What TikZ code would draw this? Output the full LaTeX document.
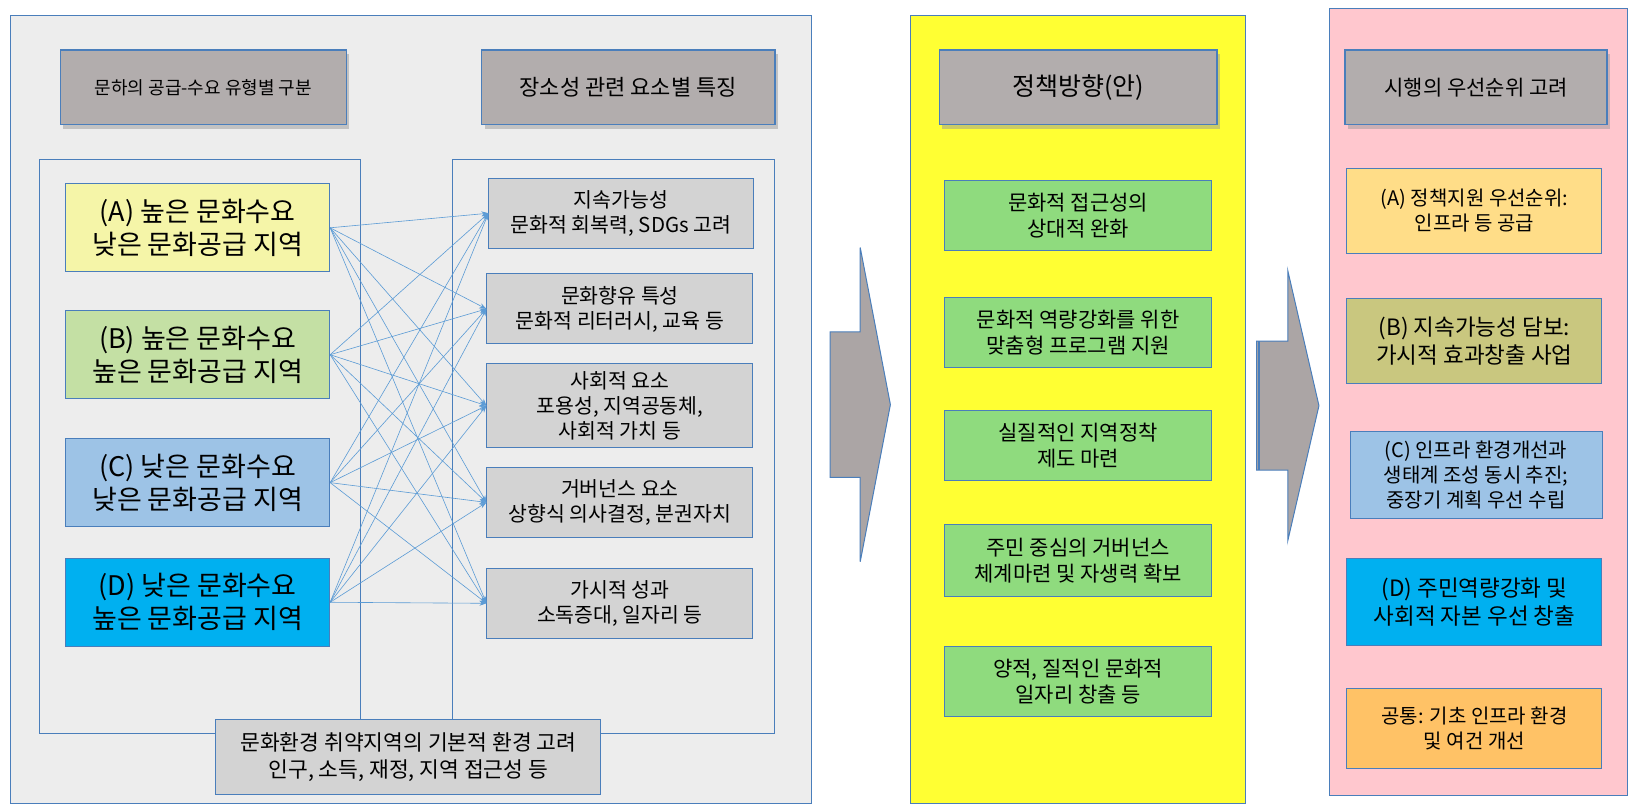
\documentclass[tikz,border=0pt]{standalone}
\usepackage{fontspec}
\setmainfont{Noto Sans CJK KR}
\usetikzlibrary{shadows,arrows.meta}
\definecolor{lineblue}{HTML}{4A7EBB}
\definecolor{linkblue}{HTML}{5B9BD5}
\definecolor{panelgray}{HTML}{EDEDED}
\definecolor{headgray}{HTML}{B2ADAD}
\definecolor{boxgray}{HTML}{D3D3D3}
\definecolor{typeA}{HTML}{F5F5A8}
\definecolor{typeB}{HTML}{C4E0A4}
\definecolor{typeC}{HTML}{9DC3E6}
\definecolor{typeD}{HTML}{00B0F0}
\definecolor{polgreen}{HTML}{8FDB7E}
\definecolor{polyellow}{HTML}{FFFF33}
\definecolor{prpink}{HTML}{FFC7CE}
\definecolor{prA}{HTML}{FFDD88}
\definecolor{prB}{HTML}{C9C77F}
\definecolor{prE}{HTML}{FFC266}
\definecolor{arrowgray}{HTML}{ABA5A5}
\tikzset{
  panel/.style={draw=lineblue, line width=1pt},
  head/.style={draw=lineblue, line width=1.2pt, fill=headgray, drop shadow={shadow xshift=3pt, shadow yshift=-4pt, fill=black!40}},
  item/.style={draw=lineblue, line width=1pt, align=center, inner sep=0pt},
  link/.style={linkblue, line width=0.6pt, -{Stealth[length=7pt, width=5pt]}},
}
\begin{document}
\begin{tikzpicture}[x=1.04pt, y=-1.04pt]
  \useasboundingbox (0,0) rectangle (1568,780);
  % left panel
  \draw[panel, fill=panelgray] (10,15) rectangle (780,772);
  \draw[panel] (38,153) rectangle (347,705);
  \draw[panel] (435,153) rectangle (745,705);
  \draw[head] (58,48) rectangle (333,120);
  \node[font=\fontsize{18}{22}\selectfont] (h1) at (195.5,84) {문하의 공급-수요 유형별 구분};
  \draw[head] (463,48) rectangle (745,120);
  \node[font=\fontsize{22}{26}\selectfont] (h2) at (604,84) {장소성 관련 요소별 특징};
  % types
  \node[item, fill=typeA, minimum width=264, minimum height=88, font=\fontsize{27}{33}\selectfont] (tA) at (190,219) {(A) 높은 문화수요\\낮은 문화공급 지역};
  \node[item, fill=typeB, minimum width=264, minimum height=88, font=\fontsize{27}{33}\selectfont] (tB) at (190,341) {(B) 높은 문화수요\\높은 문화공급 지역};
  \node[item, fill=typeC, minimum width=264, minimum height=88, font=\fontsize{27}{33}\selectfont] (tC) at (190,464) {(C) 낮은 문화수요\\낮은 문화공급 지역};
  \node[item, fill=typeD, minimum width=264, minimum height=88, font=\fontsize{27}{33}\selectfont] (tD) at (190,579) {(D) 낮은 문화수요\\높은 문화공급 지역};
  % elements
  \node[item, fill=boxgray, minimum width=264, minimum height=70, font=\fontsize{20.5}{25}\selectfont] (e1) at (597,205) {지속가능성\\문화적 회복력, SDGs 고려};
  \node[item, fill=boxgray, minimum width=266, minimum height=70, font=\fontsize{20.5}{25}\selectfont] (e2) at (596,297) {문화향유 특성\\문화적 리터러시, 교육 등};
  \node[item, fill=boxgray, minimum width=266, minimum height=84, font=\fontsize{20.5}{25}\selectfont] (e3) at (596,390) {사회적 요소\\포용성, 지역공동체,\\사회적 가치 등};
  \node[item, fill=boxgray, minimum width=266, minimum height=70, font=\fontsize{20.5}{25}\selectfont] (e4) at (596,483) {거버넌스 요소\\상향식 의사결정, 분권자치};
  \node[item, fill=boxgray, minimum width=266, minimum height=70, font=\fontsize{20.5}{25}\selectfont] (e5) at (596,580) {가시적 성과\\소독증대, 일자리 등};
  \foreach \t in {tA,tB,tC,tD}
    \foreach \e in {e1,e2,e3,e4,e5}
      \draw[link] (\t.east) -- (\e.west);
  \node[item, fill=boxgray, minimum width=385, minimum height=75, font=\fontsize{21.5}{27}\selectfont] (base) at (392.5,727.5) {문화환경 취약지역의 기본적 환경 고려\\인구, 소득, 재정, 지역 접근성 등};
  % arrows between panels
  \draw[lineblue, line width=1pt, fill=arrowgray] (798,319) -- (827,319) -- (827,238) -- (856,389) -- (827,540) -- (827,459) -- (798,459) -- cycle;
  \draw[lineblue, line width=1pt, fill=arrowgray] (1208,328) -- (1238,328) -- (1238,260) -- (1268,390) -- (1238,520) -- (1238,452) -- (1208,452) -- cycle;
  \draw[lineblue, line width=2pt] (1210,328) -- (1210,452);
  % policy panel
  \draw[panel, fill=polyellow] (875,15) rectangle (1197,772);
  \draw[head] (903,48) rectangle (1170,120);
  \node[font=\fontsize{25}{30}\selectfont] (h3) at (1036.5,84) {정책방향(안)};
  \node[item, fill=polgreen, minimum width=267, minimum height=70, font=\fontsize{21}{26}\selectfont] (p1) at (1036.5,207) {문화적 접근성의\\상대적 완화};
  \node[item, fill=polgreen, minimum width=267, minimum height=70, font=\fontsize{21}{26}\selectfont] (p2) at (1036.5,320) {문화적 역량강화를 위한\\맞춤형 프로그램 지원};
  \node[item, fill=polgreen, minimum width=267, minimum height=70, font=\fontsize{21}{26}\selectfont] (p3) at (1036.5,428) {실질적인 지역정착\\제도 마련};
  \node[item, fill=polgreen, minimum width=267, minimum height=72, font=\fontsize{21}{26}\selectfont] (p4) at (1036.5,539) {주민 중심의 거버넌스\\체계마련 및 자생력 확보};
  \node[item, fill=polgreen, minimum width=267, minimum height=70, font=\fontsize{21}{26}\selectfont] (p5) at (1036.5,655) {양적, 질적인 문화적\\일자리 창출 등};
  % priority panel
  \draw[panel, fill=prpink] (1278,8) rectangle (1565,765);
  \draw[head] (1293,48) rectangle (1545,120);
  \node[font=\fontsize{21}{26}\selectfont] (h4) at (1419,84) {시행의 우선순위 고려};
  \node[item, fill=prA, minimum width=255, minimum height=85, font=\fontsize{20}{25}\selectfont] (r1) at (1417.5,202.5) {(A) 정책지원 우선순위:\\인프라 등 공급};
  \node[item, fill=prB, minimum width=255, minimum height=85, font=\fontsize{22.5}{28}\selectfont] (r2) at (1417.5,327.5) {(B) 지속가능성 담보:\\가시적 효과창출 사업};
  \node[item, fill=typeC, minimum width=252, minimum height=87, font=\fontsize{20}{25}\selectfont] (r3) at (1419,456.5) {(C) 인프라 환경개선과\\생태계 조성 동시 추진;\\중장기 계획 우선 수립};
  \node[item, fill=typeD, minimum width=255, minimum height=87, font=\fontsize{22.5}{28}\selectfont] (r4) at (1417.5,578.5) {(D) 주민역량강화 및\\사회적 자본 우선 창출};
  \node[item, fill=prE, minimum width=255, minimum height=80, font=\fontsize{20}{25}\selectfont] (r5) at (1417.5,700) {공통: 기초 인프라 환경\\및 여건 개선};
\end{tikzpicture}
\end{document}
